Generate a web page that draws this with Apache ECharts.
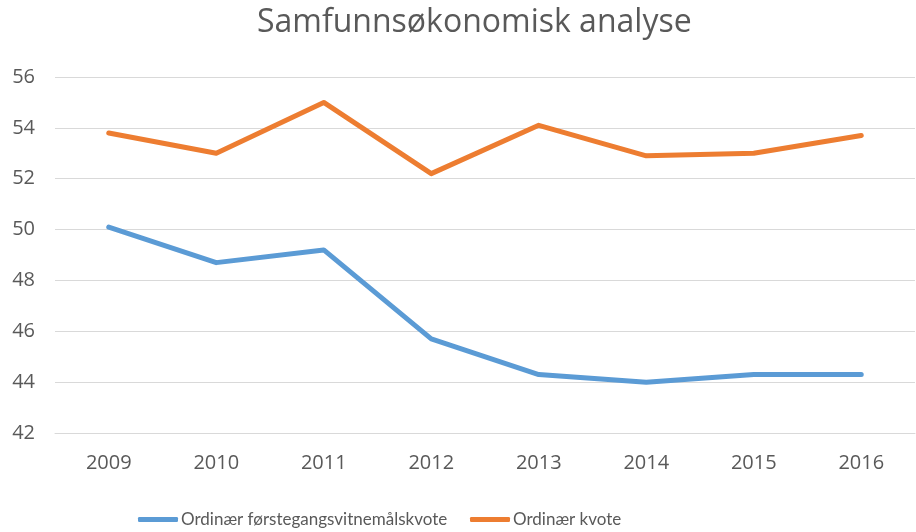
<!DOCTYPE html>
<html>
<head>
<meta charset="utf-8">
<script src="https://cdn.jsdelivr.net/npm/echarts@6/dist/echarts.min.js"></script>
<style>html,body{margin:0;padding:0;background:#fff;}#c{width:916px;height:532px;}</style>
</head>
<body>
<div id="c"></div>
<script>
const years = ['2009','2010','2011','2012','2013','2014','2015','2016'];
const forstegang = [50.1, 48.7, 49.2, 45.7, 44.3, 44.0, 44.3, 44.3];
const ordinaer = [53.8, 53.0, 55.0, 52.2, 54.1, 52.9, 53.0, 53.7];
const seriesNames = ['Ordinær førstegangsvitnemålskvote', 'Ordinær kvote'];
const titleText = 'Samfunnsøkonomisk analyse';

const font = '"Open Sans", sans-serif';
const legendFont = 'Lato, "Open Sans", sans-serif';
const legendCommon = {
  top: 506, itemWidth: 40, itemHeight: 5, icon: 'roundRect',
  textStyle: { fontFamily: legendFont, fontSize: 17, color: '#595959', padding: [0,0,0,-2] }
};
const chart = echarts.init(document.getElementById('c'));
chart.setOption({
  animation: false,
  backgroundColor: '#fff',
  title: {
    text: titleText, left: 252, top: 2,
    textStyle: { fontFamily: font, fontWeight: 'normal', fontSize: 32, color: '#595959' }
  },
  legend: [
    Object.assign({ left: 133, data: [seriesNames[0]] }, legendCommon),
    Object.assign({ left: 465, data: [seriesNames[1]] }, legendCommon)
  ],
  grid: { left: 55, right: 1, top: 77, bottom: 99, containLabel: false },
  xAxis: {
    type: 'category', data: years, boundaryGap: true,
    axisLine: { lineStyle: { color: '#D9D9D9', width: 1 } },
    axisTick: { show: false },
    axisLabel: { fontFamily: font, fontSize: 20, color: '#595959', margin: 20 }
  },
  yAxis: {
    type: 'value', min: 42, max: 56, interval: 2,
    axisLine: { show: false }, axisTick: { show: false },
    splitLine: { lineStyle: { color: '#D9D9D9', width: 1 } },
    axisLabel: { fontFamily: font, fontSize: 20, color: '#595959', margin: 20 }
  },
  series: [
    { name: seriesNames[0], type: 'line', data: forstegang, symbol: 'none',
      lineStyle: { color: '#5B9BD5', width: 5, cap: 'round', join: 'round' }, itemStyle: { color: '#5B9BD5' } },
    { name: seriesNames[1], type: 'line', data: ordinaer, symbol: 'none',
      lineStyle: { color: '#ED7D31', width: 5, cap: 'round', join: 'round' }, itemStyle: { color: '#ED7D31' } }
  ]
});
</script>
</body>
</html>
